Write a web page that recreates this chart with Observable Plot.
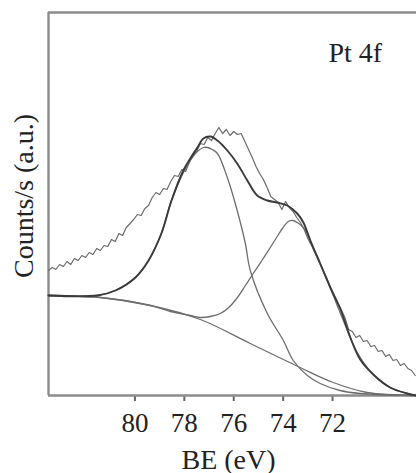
<!DOCTYPE html>
<html>
<head>
<meta charset="utf-8">
<script src="https://cdn.jsdelivr.net/npm/d3@7"></script>
<script src="https://cdn.jsdelivr.net/npm/@observablehq/plot@0.6"></script>
<style>
  html, body { margin: 0; padding: 0; background: #fff; }
  #chart svg { display: block; }
</style>
</head>
<body>
<div id="chart"></div>
<script>
// ---- data (binding energy in eV, counts in arbitrary units) ----
const xDomain = [83.5, 68.6];
const yMax = 383;
const xTicks = [80, 78, 76, 74, 72];

const rawBE = [83.50,83.35,83.20,83.05,82.90,82.75,82.60,82.45,82.30,82.15,82.00,81.85,81.70,81.55,81.40,81.25,81.10,80.95,80.80,80.65,
  80.50,80.35,80.20,80.05,79.90,79.75,79.60,79.45,79.30,79.15,79.00,78.85,78.70,78.55,78.40,78.25,78.10,77.95,77.80,77.65,
  77.50,77.35,77.20,77.05,76.90,76.75,76.60,76.45,76.30,76.15,76.00,75.85,75.70,75.55,75.40,75.25,75.10,74.95,74.80,74.65,
  74.50,74.35,74.20,74.05,73.90,73.75,73.60,73.45,73.30,73.15,73.00,72.85,72.70,72.55,72.40,72.25,72.10,71.95,71.80,71.65,
  71.50,71.35,71.20,71.05,70.90,70.75,70.60,70.45,70.30,70.15,70.00,69.85,69.70,69.55,69.40,69.25,69.10,68.95,68.80,68.65];
const rawCounts = [125,128,126,131,129,134,131,137,135,140,138,143,141,147,145,150,149,156,154,162,
  160,168,172,176,181,180,187,190,198,203,201,207,206,214,220,219,226,224,233,240,
  244,252,251,258,255,262,268,262,266,260,264,261,262,254,246,238,229,222,216,208,
  199,196,193,186,194,188,184,178,173,166,157,150,142,134,126,118,109,101,93,86,
  78,66,64,58,60,54,55,49,50,44,45,39,41,35,36,30,32,27,25,20];

const envBE =     [83.50,81.52,80.79,79.98,79.45,78.93,78.52,78.04,77.76,77.47,77.23,76.95,76.66,76.26,75.86,75.45,75.05,74.64,74.24,73.83,73.43,73.18,72.90,72.50,72.09,71.69,71.28,70.88,70.35,69.67,68.98,68.61];
const envCounts = [100,  100,  105,  118,  135,  162,  195,  225,  237,  248,  257,  259,  255,  245,  232,  215,  200,  195,  193,  190,  182,  173,  155,  132,  108,  87,   58,   36,   21,   8,    2,    0];

const p1BE =     [83.50,81.52,80.79,79.98,79.45,78.93,78.52,78.04,77.76,77.47,77.23,77.07,76.87,76.66,76.26,75.86,75.53,75.33,74.64,73.99,73.59,73.02,72.50,71.69,70.88,68.61];
const p1Counts = [100,  100,  105,  118,  135,  162,  195,  223,  235,  244,  248,  248,  246,  242,  218,  185,  152,  125,  82,   55,   35,   20,   12,   5,    2,    0];

const p2BE =     [83.50,81.40,79.37,78.56,77.76,77.35,76.95,76.54,76.20,75.85,75.53,75.21,74.86,74.52,74.24,74.03,73.79,73.60,73.43,73.22,73.02,72.70,72.29,71.89,71.48,71.00,70.35,69.67,68.98,68.61];
const p2Counts = [100,  98,   90,   84,   80,   78,   79,   82,   88,   98,   110,  122,  135,  148,  159,  167,  174,  175,  173,  169,  162,  143,  120,  95,   70,   43,   21,   8,    2,    0];

const bgBE =     [83.50,81.40,79.37,77.35,75.33,73.31,71.97,70.60,68.61];
const bgCounts = [100,  98,   90,   76,   52,   28,   13,   3,    0];

const toRows = (xs, ys) => xs.map((x, i) => ({be: x, c: ys[i]}));
const raw = toRows(rawBE, rawCounts);
const env = toRows(envBE, envCounts);
const p1 = toRows(p1BE, p1Counts);
const p2 = toRows(p2BE, p2Counts);
const bg = toRows(bgBE, bgCounts);

const frameColor = "#8c8c8c";
const serif = "'Liberation Serif', 'Times New Roman', serif";

const chart = Plot.plot({
  width: 416,
  height: 473,
  marginLeft: 48,
  marginRight: 0,
  marginTop: 12,
  marginBottom: 78,
  style: {fontFamily: serif, fontSize: "26px", color: "#222", background: "#fff"},
  x: {domain: xDomain},
  y: {domain: [0, yMax], axis: null},
  marks: [
    Plot.axisX({ticks: xTicks, tickSize: 6, tickPadding: 11, stroke: "#666", strokeWidth: 2, fill: "#222", fontSize: 27, label: null}),
    Plot.ruleY([0], {stroke: frameColor, strokeWidth: 2.4}),
    Plot.ruleY([yMax], {stroke: frameColor, strokeWidth: 2.4}),
    Plot.ruleX([xDomain[0]], {stroke: frameColor, strokeWidth: 2.4}),
    Plot.line(bg, {x: "be", y: "c", stroke: "#6e6e6e", strokeWidth: 1.3, curve: "catmull-rom"}),
    Plot.line(p2, {x: "be", y: "c", stroke: "#6e6e6e", strokeWidth: 1.3, curve: "catmull-rom"}),
    Plot.line(p1, {x: "be", y: "c", stroke: "#6e6e6e", strokeWidth: 1.3, curve: "catmull-rom"}),
    Plot.line(raw, {x: "be", y: "c", stroke: "#6a6a6a", strokeWidth: 1.2}),
    Plot.line(env, {x: "be", y: "c", stroke: "#3a3a3a", strokeWidth: 1.9, curve: "catmull-rom"}),
    Plot.text(["Pt 4f"], {frameAnchor: "top-right", textAnchor: "start", lineAnchor: "top", dx: -88, dy: 30, fontSize: 28, fill: "#222"}),
    Plot.text(["BE (eV)"], {frameAnchor: "bottom", textAnchor: "middle", lineAnchor: "bottom", dx: -4, dy: 73, fontSize: 28, fill: "#222"}),
    Plot.text(["Counts/s (a.u.)"], {frameAnchor: "left", textAnchor: "middle", rotate: -90, lineAnchor: "bottom", dx: -16, dy: -8, fontSize: 28, fill: "#222"})
  ]
});
document.getElementById("chart").appendChild(chart);
</script>
</body>
</html>
